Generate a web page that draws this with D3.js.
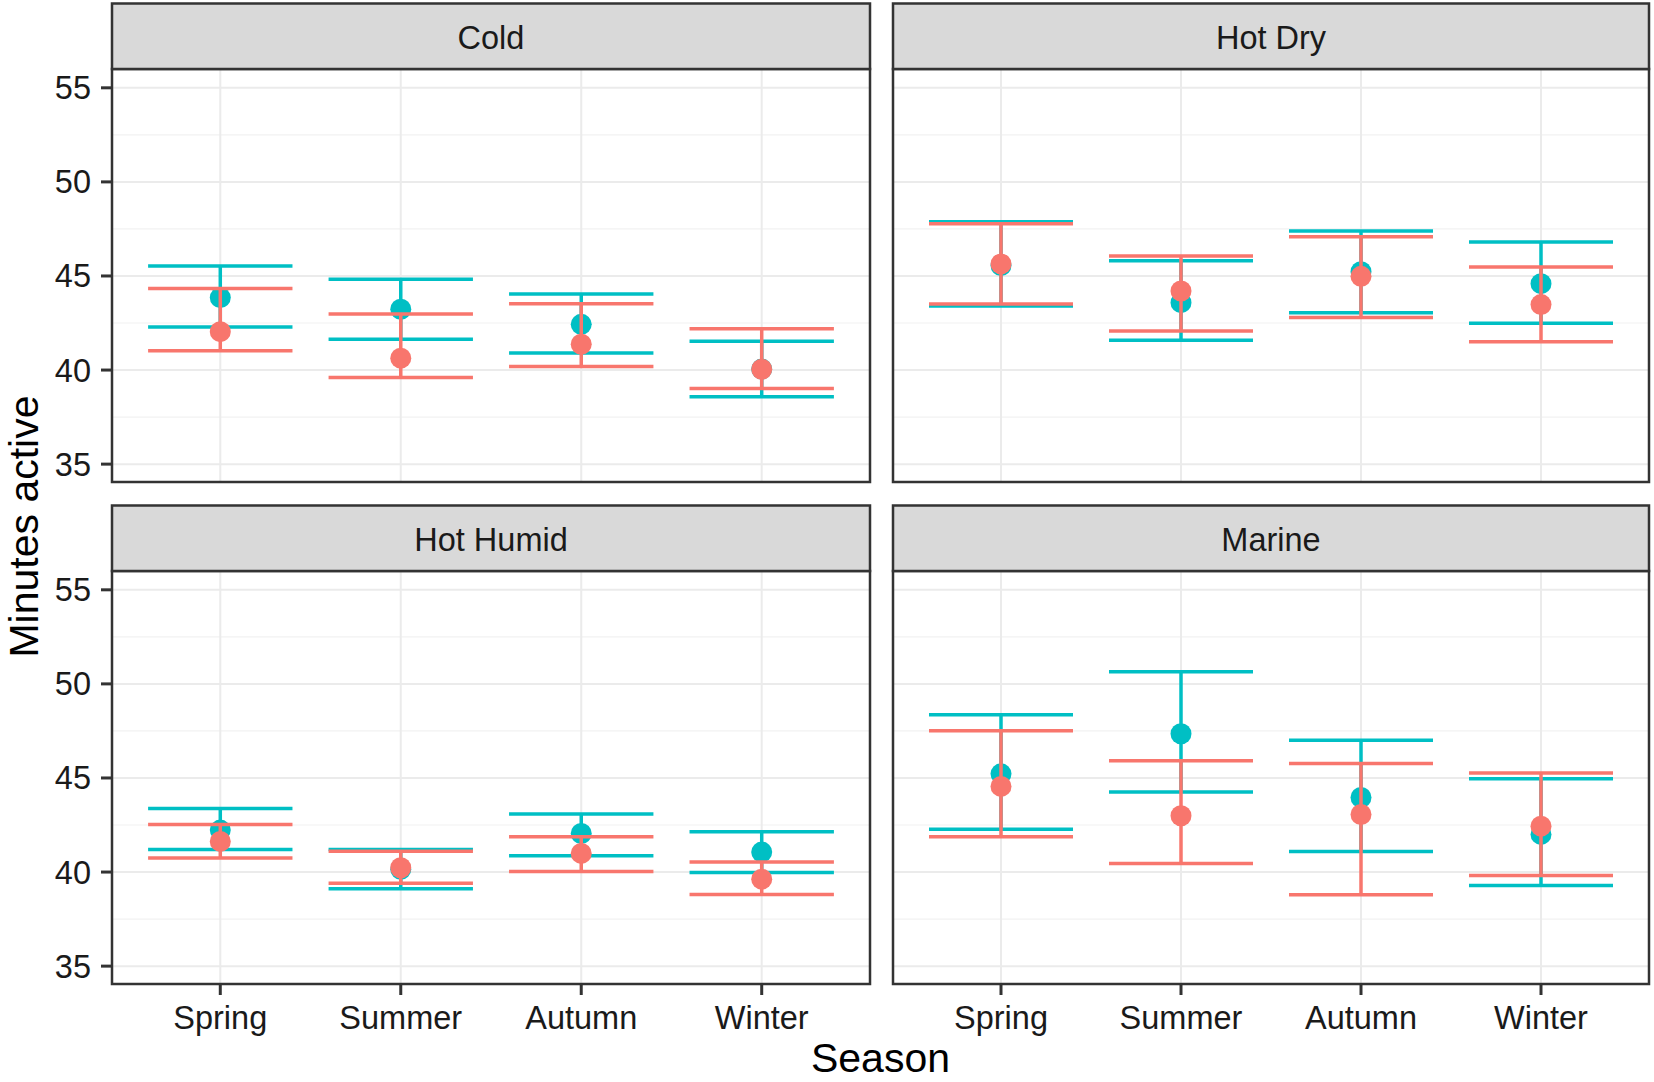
<!DOCTYPE html>
<html>
<head>
<meta charset="utf-8">
<script src="https://cdn.jsdelivr.net/npm/d3@7"></script>
<style>
  html, body { margin: 0; padding: 0; background: #fff; }
  svg { display: block; font-family: "Liberation Sans", Arial, Helvetica, sans-serif; }
</style>
</head>
<body>
<svg id="chart" width="1654" height="1082"></svg>
<script>
// ---------- DATA ----------
const seasons = ["Spring", "Summer", "Autumn", "Winter"];
const climates = ["Cold", "Hot Dry", "Hot Humid", "Marine"];
const yTicks = [35, 40, 45, 50, 55];
const yMinor = [37.5, 42.5, 47.5, 52.5];

// teal group (rows = climates, columns = seasons)
const tealMean = [
  [43.85, 43.23, 42.43, 40.05],
  [45.55, 43.58, 45.23, 44.59],
  [42.23, 40.15, 42.05, 41.06],
  [45.22, 47.35, 43.96, 42.00]
];
const tealLower = [
  [42.29, 41.64, 40.91, 38.58],
  [43.40, 41.58, 43.04, 42.49],
  [41.20, 39.11, 40.86, 39.98],
  [42.28, 44.26, 41.09, 39.29]
];
const tealUpper = [
  [45.53, 44.82, 44.04, 41.53],
  [47.88, 45.81, 47.39, 46.81],
  [43.38, 41.20, 43.08, 42.14],
  [48.36, 50.64, 47.01, 44.96]
];
// red group
const redMean = [
  [42.04, 40.63, 41.37, 40.04],
  [45.64, 44.20, 44.98, 43.48],
  [41.63, 40.23, 40.99, 39.62],
  [44.55, 42.99, 43.06, 42.44]
];
const redLower = [
  [41.02, 39.60, 40.19, 39.02],
  [43.51, 42.08, 42.79, 41.51],
  [40.74, 39.41, 40.03, 38.81],
  [41.87, 40.46, 38.79, 39.82]
];
const redUpper = [
  [44.33, 42.98, 43.53, 42.20],
  [47.78, 46.06, 47.09, 45.48],
  [42.53, 41.11, 41.87, 40.54],
  [47.51, 45.91, 45.77, 45.27]
];

const groups = [
  { color: "#00BFC4", mean: tealMean, lower: tealLower, upper: tealUpper },
  { color: "#F8766D", mean: redMean, lower: redLower, upper: redUpper }
];

// ---------- LAYOUT ----------
const svg = d3.select("#chart");
const cols = [[112, 870], [893, 1649]];
const rows = [
  { stripTop: 3.5, top: 69, bottom: 482 },
  { stripTop: 505.5, top: 571, bottom: 984 }
];
const yDomain = [34.05, 56.0];
const textColor = "#1a1a1a";
const axisColor = "#333333";

climates.forEach((clim, ci) => {
  const col = cols[ci % 2];
  const row = rows[Math.floor(ci / 2)];
  const x = d3.scalePoint().domain(seasons).range(col).padding(0.6);
  const y = d3.scaleLinear().domain(yDomain).range([row.bottom, row.top]);
  const step = x.step();
  const halfW = step * 0.4;
  const g = svg.append("g");

  // panel background
  g.append("rect").attr("x", col[0]).attr("y", row.top)
    .attr("width", col[1] - col[0]).attr("height", row.bottom - row.top)
    .attr("fill", "#fff");

  // minor grid
  g.selectAll(".minor").data(yMinor).join("line")
    .attr("x1", col[0]).attr("x2", col[1])
    .attr("y1", d => y(d)).attr("y2", d => y(d))
    .attr("stroke", "#F2F2F2").attr("stroke-width", 1.2);
  // major grid
  g.selectAll(".majorY").data(yTicks).join("line")
    .attr("x1", col[0]).attr("x2", col[1])
    .attr("y1", d => y(d)).attr("y2", d => y(d))
    .attr("stroke", "#EBEBEB").attr("stroke-width", 2);
  g.selectAll(".majorX").data(seasons).join("line")
    .attr("x1", d => x(d)).attr("x2", d => x(d))
    .attr("y1", row.top).attr("y2", row.bottom)
    .attr("stroke", "#EBEBEB").attr("stroke-width", 2);

  // marks: per group errorbar then point
  groups.forEach(grp => {
    const data = seasons.map((s, si) => ({
      s, m: grp.mean[ci][si], lo: grp.lower[ci][si], hi: grp.upper[ci][si]
    }));
    const eg = g.append("g").attr("stroke", grp.color).attr("stroke-width", 3.5)
      .attr("fill", "none");
    eg.selectAll(".v").data(data).join("line")
      .attr("x1", d => x(d.s)).attr("x2", d => x(d.s))
      .attr("y1", d => y(d.lo)).attr("y2", d => y(d.hi));
    eg.selectAll(".t").data(data).join("line")
      .attr("x1", d => x(d.s) - halfW).attr("x2", d => x(d.s) + halfW)
      .attr("y1", d => y(d.hi)).attr("y2", d => y(d.hi));
    eg.selectAll(".b").data(data).join("line")
      .attr("x1", d => x(d.s) - halfW).attr("x2", d => x(d.s) + halfW)
      .attr("y1", d => y(d.lo)).attr("y2", d => y(d.lo));
    g.append("g").selectAll("circle").data(data).join("circle")
      .attr("cx", d => x(d.s)).attr("cy", d => y(d.m))
      .attr("r", 10.5).attr("fill", grp.color);
  });

  // panel border
  g.append("rect").attr("x", col[0]).attr("y", row.top)
    .attr("width", col[1] - col[0]).attr("height", row.bottom - row.top)
    .attr("fill", "none").attr("stroke", axisColor).attr("stroke-width", 2.5);

  // strip
  g.append("rect").attr("x", col[0]).attr("y", row.stripTop)
    .attr("width", col[1] - col[0]).attr("height", row.top - row.stripTop)
    .attr("fill", "#D9D9D9").attr("stroke", axisColor).attr("stroke-width", 2.5);
  g.append("text").attr("x", (col[0] + col[1]) / 2).attr("y", row.stripTop + 45.5)
    .attr("text-anchor", "middle").attr("font-size", 32.5).attr("fill", textColor)
    .text(clim);

  // y axis on left column
  if (ci % 2 === 0) {
    const ya = g.append("g");
    ya.selectAll("line").data(yTicks).join("line")
      .attr("x1", col[0] - 11).attr("x2", col[0])
      .attr("y1", d => y(d)).attr("y2", d => y(d))
      .attr("stroke", axisColor).attr("stroke-width", 3);
    ya.selectAll("text").data(yTicks).join("text")
      .attr("x", col[0] - 21).attr("y", d => y(d) + 11.5)
      .attr("text-anchor", "end").attr("font-size", 32.5).attr("fill", textColor)
      .text(d => d);
  }
  // x axis on bottom row
  if (Math.floor(ci / 2) === 1) {
    const xa = g.append("g");
    xa.selectAll("line").data(seasons).join("line")
      .attr("x1", d => x(d)).attr("x2", d => x(d))
      .attr("y1", row.bottom).attr("y2", row.bottom + 11)
      .attr("stroke", axisColor).attr("stroke-width", 3);
    xa.selectAll("text").data(seasons).join("text")
      .attr("x", d => x(d)).attr("y", 1029)
      .attr("text-anchor", "middle").attr("font-size", 32.5).attr("fill", textColor)
      .text(d => d);
  }
});

// axis titles
svg.append("text").attr("x", (cols[0][0] + cols[1][1]) / 2).attr("y", 1072)
  .attr("text-anchor", "middle").attr("font-size", 41).attr("fill", "#000")
  .text("Season");
svg.append("text").attr("transform", "translate(38,526.5) rotate(-90)")
  .attr("text-anchor", "middle").attr("font-size", 41).attr("fill", "#000")
  .text("Minutes active");
</script>
</body>
</html>
